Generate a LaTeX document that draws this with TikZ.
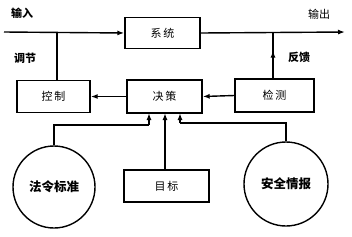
\documentclass[tikz,border=0pt]{standalone}
\usepackage{fontspec}
\setmainfont{Noto Sans CJK SC}
\usetikzlibrary{arrows.meta,decorations.markings}
\begin{document}
\begin{tikzpicture}[x=1pt,y=-1pt,
  box/.style={draw,line width=1.4pt,rectangle,inner sep=0pt,font=\fontsize{11}{11}\selectfont},
  circ/.style={draw,line width=1.4pt,circle,inner sep=0pt,font=\bfseries\fontsize{12.5}{12.5}\selectfont},
  lbl/.style={font=\bfseries\fontsize{11}{11}\selectfont},
  wire/.style={line width=1.4pt},
  arr/.style={wire,-{Latex[length=7pt,width=5pt]}},
  midarr/.style={wire,postaction={decorate},decoration={markings,mark=at position #1 with {\arrow{Latex[length=7pt,width=5pt]}}}}
]
\useasboundingbox (0,0) rectangle (352,236);
\node[box,minimum width=75pt,minimum height=31pt] (sys) at (162.5,33) {系\,统};
\node[box,minimum width=73pt,minimum height=32pt] (ctl) at (53.5,96.5) {控\,制};
\node[box,minimum width=75pt,minimum height=33pt] (dec) at (164.5,96.5) {决\,策};
\node[box,minimum width=79pt,minimum height=33pt] (det) at (274.5,95.5) {检\,测};
\node[box,minimum width=85pt,minimum height=32pt] (goal) at (166.5,186) {目\,标};
\node[circ,minimum size=82pt] (law) at (54,187) {法令标准};
\node[circ,minimum size=84pt] (info) at (286,184) {安全情报};
\node[lbl] (lin) at (22,13) {输入};
\node[lbl] (ladj) at (25,58) {调节};
\node[lbl] (lfb) at (299,57) {反馈};
\node[font=\fontsize{11}{11}\selectfont] (lout) at (319,14) {输出};
\coordinate (in) at (4,32);
\coordinate (out) at (345,32);
\coordinate (j1) at (57,32);
\coordinate (j2) at (273,32);
\coordinate (d1) at (149,113);
\coordinate (d2) at (165,113);
\coordinate (d3) at (180,113);
\coordinate (k1) at (149,125);
\coordinate (k3) at (180,123);
\draw[arr] (in) -- (sys.west);
\draw[arr] (sys.east) -- (out);
\draw[wire] (j1) -- (j1 |- ctl.north);
\draw[midarr=0.6] (det.north -| j2) -- (j2);
\draw[arr] (dec.west) -- (ctl.east);
\draw[arr] (det.west) -- (dec.east);
\draw[wire] (law.north) |- (k1);
\draw[arr] (k1) -- (d1);
\draw[arr] (goal.north -| d2) -- (d2);
\draw[wire] (info.north) |- (k3);
\draw[arr] (k3) -- (d3);
\end{tikzpicture}
\end{document}
